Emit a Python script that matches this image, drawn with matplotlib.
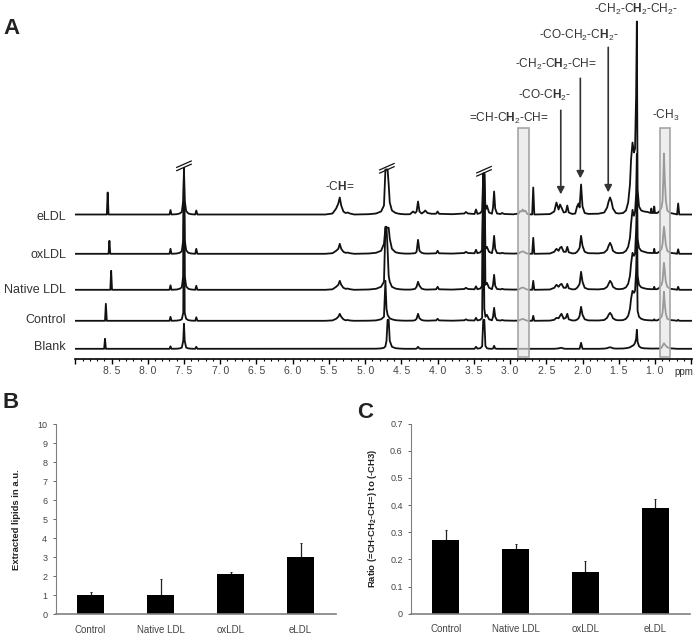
import matplotlib
matplotlib.use("Agg")
import matplotlib.pyplot as plt
import numpy as np
from matplotlib.patches import Rectangle

plt.rcParams['font.family'] = ['Liberation Sans', 'DejaVu Sans']
plt.rcParams['mathtext.fontset'] = 'custom'
plt.rcParams['mathtext.rm'] = 'Liberation Sans'
plt.rcParams['mathtext.it'] = 'Liberation Sans:italic'
plt.rcParams['mathtext.bf'] = 'Liberation Sans:bold'
plt.rcParams['mathtext.default'] = 'regular'

# ---------- Panel A: spectra (one line per spectral region) ----------
ppm = [
    9.0, 8.602, 8.59, 8.578, 8.565, 8.553, 8.541, 8.529, 8.517, 8.505, 8.493,
    7.70, 7.686, 7.672,
    7.60, 7.56, 7.53, 7.51, 7.50, 7.49, 7.47, 7.44, 7.40,
    7.345, 7.33, 7.315,
    5.55, 5.45, 5.40, 5.37, 5.35, 5.33, 5.30, 5.27, 5.24, 5.21, 5.15,
    4.95, 4.85, 4.78, 4.74, 4.72, 4.705, 4.69, 4.675, 4.66, 4.63, 4.58, 4.52, 4.45,
    4.38, 4.34, 4.31, 4.29, 4.27, 4.25, 4.22, 4.19, 4.17, 4.14, 4.08, 4.02, 4.0, 3.98, 3.8,
    3.63, 3.61, 3.58, 3.49, 3.47, 3.45, 3.41, 3.385, 3.37, 3.355, 3.34, 3.32, 3.29,
    3.25, 3.235, 3.22, 3.205, 3.18, 3.13, 3.11, 3.08, 2.95,
    2.88, 2.86, 2.84, 2.825, 2.81, 2.79, 2.76,
    2.695, 2.68, 2.665,
    2.45, 2.39, 2.36, 2.33, 2.31, 2.29, 2.26, 2.23, 2.21, 2.19, 2.14,
    2.10, 2.075, 2.055, 2.04, 2.02, 2.0, 1.97, 1.92,
    1.78, 1.70, 1.66, 1.64, 1.62, 1.60, 1.58, 1.54, 1.50,
    1.44, 1.40, 1.37, 1.345, 1.33, 1.31, 1.29, 1.275, 1.26, 1.25, 1.24, 1.22, 1.19, 1.15, 1.10,
    1.06, 1.05, 1.04, 1.02, 1.01, 1.0, 0.97,
    0.94, 0.91, 0.895, 0.885, 0.876, 0.865, 0.85, 0.83, 0.79, 0.72,
    0.695, 0.68, 0.665, 0.6, 0.49,
]
eldl = [
    0, 0, 0, 0, 0, 22, 0, 0, 0, 0, 0,
    0, 4.5, 0,
    .3, 1, 2.5, 14, 46, 14, 3.5, 1, .3,
    0, 4, 0,
    0, 1, 6, 11, 17, 9, 3, 1.5, 2, 1, 0,
    .3, 1, 3, 9, 45, 45, 45, 30, 12, 4, 1.5, .6, .2,
    .3, 3, 1.5, 3, 13, 3, 1, 2.5, 4, 1.5, .7, .8, 3, .7, .3,
    1, 2.5, 1, .5, 5, .6, 1.5, 4, 41, 41, 5, 9, 2,
    .8, 7, 23, 6, 1, .5, 1.5, .5, .2,
    1, 3.5, 3, 5, 3, 4, .4,
    0, 27, 0,
    .4, 3, 12, 5, 10, 7, 2, 2.5, 9, 2, .5,
    1, 8, 11, 7, 30, 8, 1.5, .6,
    .8, 2, 7, 13, 17, 13, 6, 1.5, 1,
    1.5, 4, 12, 30, 55, 72, 62, 66, 120, 193, 25, 8, 4, 3, 2.5,
    1.5, 6, 1.5, 1.5, 8, 1.5, 1.5,
    3, 7, 14, 36, 61, 36, 14, 4, 1.5, .5,
    0, 11, 0, 0, 0,
]
oxldl = [
    0, 0, 0, 0, 0, 0, 0, 13, 0, 0, 0,
    0, 5, 0,
    .3, 1, 2.5, 14, 86, 14, 3.5, 1, .3,
    0, 5, 0,
    0, .6, 3, 5, 10, 5, 2, 1, 1.2, .6, 0,
    .3, 1, 3, 10, 26, 26, 26, 26, 15, 5, 1.5, .6, .2,
    .2, .4, .6, 2, 14, 3, 1, .4, .3, .2, .3, .5, 3, .5, .2,
    .8, 2, .8, .5, 4, .6, 1.5, 4, 80, 80, 5, 7, 2,
    .6, 6, 18, 5, .8, .4, 1, .4, .2,
    .4, 1.5, 2, 2.5, 2, 1, .2,
    0, 16, 0,
    .3, 2, 5, 3, 6, 7, 2, 2, 7, 1.5, .4,
    .6, 2, 4, 6, 18, 8, 2, .6,
    .4, 1.2, 4, 8, 11, 8, 3, 1, .6,
    1, 3, 7, 16, 30, 44, 38, 42, 60, 100, 15, 6, 3, 2, 1,
    .8, .8, .8, .8, 5, .8, .8,
    2, 5, 10, 20, 27, 20, 9, 3, 1, .4,
    0, 4.5, 0, 0, 0,
]
native = [
    0, 0, 0, 0, 0, 0, 0, 0, 0, 19, 0,
    0, 4.5, 0,
    .3, 1, 2.5, 14, 122, 14, 3.5, 1, .3,
    0, 4, 0,
    0, .5, 3, 5, 9, 5, 2, 1, 1.2, .6, 0,
    .3, 1, 3, 8, 63, 63, 40, 14, 8, 3, 1.2, .5, .2,
    .2, .5, 1, 3, 8, 4, 1.2, .5, .3, .2, .3, .5, 3, .5, .2,
    .8, 2, .8, .5, 3.5, .6, 1.3, 4, 116, 116, 5, 7, 2,
    .6, 5, 15, 4, .8, .4, 1, .4, .2,
    .3, 1.3, 2, 2.2, 2, 1, .2,
    0, 9, 0,
    .3, 2, 5, 3, 5, 6, 2, 2, 6, 1.5, .4,
    .6, 2, 4, 6, 18, 8, 2, .6,
    .4, 1, 3, 6, 9, 7, 3, 1, .6,
    1, 2.5, 6, 14, 26, 37, 34, 36, 60, 90, 14, 5, 2.5, 1.5, .8,
    .6, .6, .6, .6, 3, .6, .6,
    2, 5, 9, 19, 27, 19, 8, 3, 1, .4,
    0, 3, 0, 0, 0,
]
control = [
    0, 0, 0, 17, 0, 0, 0, 0, 0, 0, 0,
    0, 4, 0,
    .2, .6, 1.5, 8, 153, 8, 2, .6, .2,
    0, 3.5, 0,
    0, .4, 2, 4, 7, 4, 1.5, .5, .8, .3, 0,
    .1, .4, 1.5, 4, 40, 12, 6, 4, 2.5, 1.5, .6, .3, .1,
    .1, .2, .6, 2, 7, 2.5, .8, .3, .2, .1, .2, .4, 2, .4, .1,
    .5, 1.5, .5, .3, 3, .4, 1, 3, 147, 12, 4, 6, 1.5,
    .5, 4, 13, 4, .6, .3, .8, .3, .1,
    .2, 1, 1.5, 2, 1.5, .8, .1,
    0, 5, 0,
    .2, 1, 3, 2.5, 5, 7, 2, 3, 7, 1.5, .3,
    .4, 1.2, 2.5, 5, 14, 6, 1.5, .4,
    .3, .8, 3, 6, 8, 6, 2.5, .8, .5,
    .7, 2, 5, 12, 22, 30, 28, 30, 50, 80, 10, 4, 2, 1, .6,
    .4, .4, .4, .4, 1.5, .4, .4,
    1.5, 4, 8, 18, 29, 17, 7, 2, .8, .3,
    0, 1, 0, 0, 0,
]
blank = [
    0, 0, 10, 0, 0, 0, 0, 0, 0, 0, 0,
    0, 2.5, 0,
    .1, .4, 1.2, 8, 25, 8, 1.2, .4, .1,
    0, 2, 0,
    0, 0, 0, 0, 0, 0, 0, 0, 0, 0, 0,
    0, .1, .4, 1, 2.5, 8, 29, 29, 8, 2, .6, .2, 0,
    0, 0, 0, .2, 2, .2, 0, 0, 0, 0, 0, 0, 0, 0, 0,
    0, 0, 0, 0, 2, .2, .6, 2.5, 29, 29, 3, .6, .1,
    0, .3, 3, .3, 0, 0, 0, 0, 0,
    0, 0, 0, 0, 0, 0, 0,
    0, 0, 0,
    0, 0, .2, .4, .8, 1, .2, 0, 0, 0, 0,
    0, 0, 0, 0, 6, 0, 0, 0,
    0, .2, .6, 1.2, 1.5, 1.2, .5, .2, .2,
    .3, .6, 1, 1.5, 2.2, 3, 4, 6, 10, 19, 7, 2.5, 1, .5, .3,
    .2, .2, .2, .2, .2, .2, .2,
    .3, 1, 3, 4.5, 5.5, 4.5, 3, 1.5, .5, .1,
    0, 0, 0, 0, 0,
]
spectra = [eldl, oxldl, native, control, blank]
spectrum_names = ['eLDL', 'oxLDL', 'Native LDL', 'Control', 'Blank']
offsets = [144.8, 105.5, 69.5, 38.5, 10.5]
name_heights = [142.3, 104.3, 69.3, 39.3, 12.3]
ppm_ticks = [9.0, 8.5, 8.0, 7.5, 7.0, 6.5, 6.0, 5.5, 5.0, 4.5, 4.0, 3.5, 3.0, 2.5, 2.0, 1.5, 1.0, 0.5]
ppm_labels = ['', '8. 5', '8. 0', '7. 5', '7. 0', '6. 5', '6. 0', '5. 5', '5. 0',
              '4. 5', '4. 0', '3. 5', '3. 0', '2. 5', '2. 0', '1. 5', '1. 0', '']
break_ppm = [7.5, 4.7, 3.36]
break_height = [193.5, 191, 188]
shaded_ppm = [(2.89, 2.74), (0.93, 0.79)]

# ---------- Panels B and C ----------
groups = ['Control', 'Native LDL', 'oxLDL', 'eLDL']
lipids = [1.0, 1.0, 2.1, 3.0]
lipids_err = [0.17, 0.86, 0.10, 0.74]
ratio = [0.27, 0.237, 0.152, 0.389]
ratio_err = [0.04, 0.02, 0.042, 0.034]

W, H = 697, 636
fig = plt.figure(figsize=(W / 100, H / 100), dpi=100, facecolor='white')


def axes_px(l, t, r, b):
    return fig.add_axes([l / W, 1 - b / H, (r - l) / W, (b - t) / H])


TXT = '#333333'
ax = axes_px(75, 0, 692, 359.3)
ax.patch.set_alpha(0)
ax.set_xlim(9.004, 0.489)
ax.set_ylim(0, 359.3)
for s in ['left', 'right', 'top']:
    ax.spines[s].set_visible(False)
ax.spines['bottom'].set_linewidth(1.2)
ax.set_yticks([])
ax.set_xticks(ppm_ticks)
ax.set_xticklabels(ppm_labels, fontsize=7.5, color='#444444')
ax.set_xticks(np.arange(0.5, 9.01, 0.1), minor=True)
ax.tick_params(axis='x', which='major', length=3.5, width=1.0, pad=1.5)
ax.tick_params(axis='x', which='minor', length=1.6, width=0.8)

for vals, off, name, ny in zip(spectra, offsets, spectrum_names, name_heights):
    ax.plot(ppm, np.array(vals) + off, color='#111111', lw=1.3, solid_joinstyle='round', zorder=2)
    fig.text(66 / W, 1 - (359.3 - ny) / H, name, ha='right', va='center', fontsize=9, color=TXT)

for p, h in zip(break_ppm, break_height):
    for d in (-1.6, 1.6):
        ax.plot([p + 0.1, p - 0.1], [h + d - 3.2, h + d + 3.2], color='#111111', lw=0.9, zorder=4)

for a, b in shaded_ppm:
    ax.add_patch(Rectangle((a, 2.3), b - a, 229, facecolor='#e4e4e4', alpha=0.65,
                           edgecolor='none', zorder=5))
    ax.add_patch(Rectangle((a, 2.3), b - a, 229, facecolor='none',
                           edgecolor='#a6a6a6', lw=1.2, zorder=6))


def tlabel(x, y, s, fs=8.6):
    fig.text(x / W, 1 - y / H, s, ha='center', va='center', fontsize=fs, color=TXT)


tlabel(635.7, 9.3, r'-CH$_2$-C$\mathbf{H}_2$-CH$_2$-')
tlabel(579, 35.7, r'-CO-CH$_2$-C$\mathbf{H}_2$-')
tlabel(555.7, 64, r'-CH$_2$-C$\mathbf{H}_2$-CH=')
tlabel(544.7, 95, r'-CO-C$\mathbf{H}_2$-')
tlabel(509, 118, r'=CH-C$\mathbf{H}_2$-CH=')
tlabel(665.7, 115.7, r'-CH$_3$')
tlabel(340, 187, r'-C$\mathbf{H}$=')
tlabel(684, 372, 'ppm', 7)

for p, y0, y1 in [(2.30, 249, 165), (2.03, 281, 181), (1.645, 312, 167)]:
    ax.annotate('', xy=(p, y1), xytext=(p, y0),
                arrowprops=dict(arrowstyle='-|>,head_width=0.22,head_length=0.42',
                                color='#333333', lw=1.2, shrinkA=0, shrinkB=0), zorder=7)

fig.text(3 / W, 1 - 28 / H, 'A', fontsize=16, fontweight='bold', color='#222222', ha='left', va='center')
fig.text(3 / W, 1 - 403 / H, 'B', fontsize=16, fontweight='bold', color='#222222', ha='left', va='center')
fig.text(365 / W, 1 - 412 / H, 'C', fontsize=16, fontweight='bold', color='#222222', ha='center', va='center')


def bar_panel(box, vals, errs, ymax, yticks, ylabels, ylabel, label_x):
    a = axes_px(*box)
    x = np.arange(len(groups))
    a.bar(x, vals, width=0.39, color='black', zorder=2)
    a.errorbar(x, vals, yerr=[np.zeros(len(vals)), errs], fmt='none', ecolor='#222222',
               elinewidth=0.9, capsize=0.9, capthick=0.7, zorder=1)
    a.set_xlim(-0.5, len(groups) - 0.5)
    a.set_ylim(0, ymax)
    a.set_xticks(x)
    a.set_xticklabels(groups, fontsize=7, color='#444444')
    a.set_yticks(yticks)
    a.set_yticklabels(ylabels, fontsize=6.5, color='#444444')
    a.tick_params(axis='x', length=0, pad=7.5)
    a.tick_params(axis='y', length=2.5, width=0.7, color='#666666', pad=3.5)
    for s in ['right', 'top']:
        a.spines[s].set_visible(False)
    a.spines['left'].set_color('#808080')
    a.spines['left'].set_linewidth(0.8)
    a.spines['bottom'].set_color('#808080')
    a.spines['bottom'].set_linewidth(1.2)
    fig.text(label_x / W, 1 - (box[1] + box[3]) / 2 / H, ylabel, rotation=90,
             ha='center', va='center', fontsize=6.8, fontweight='bold', color='#222222')
    return a


bar_panel((55.6, 424, 335.6, 614.3), lipids, lipids_err, 10,
          list(range(0, 11)), [str(i) for i in range(0, 11)],
          'Extracted lipids in a.u.', 17)
bar_panel((411, 423.7, 690, 613.7), ratio, ratio_err, 0.7,
          [0, .1, .2, .3, .4, .5, .6, .7], ['0', '0.1', '0.2', '0.3', '0.4', '0.5', '0.6', '0.7'],
          r'Ratio (=CH-CH$_2$-CH=) to (-CH3)', 372.4)

fig.savefig('out.png', dpi=100)
